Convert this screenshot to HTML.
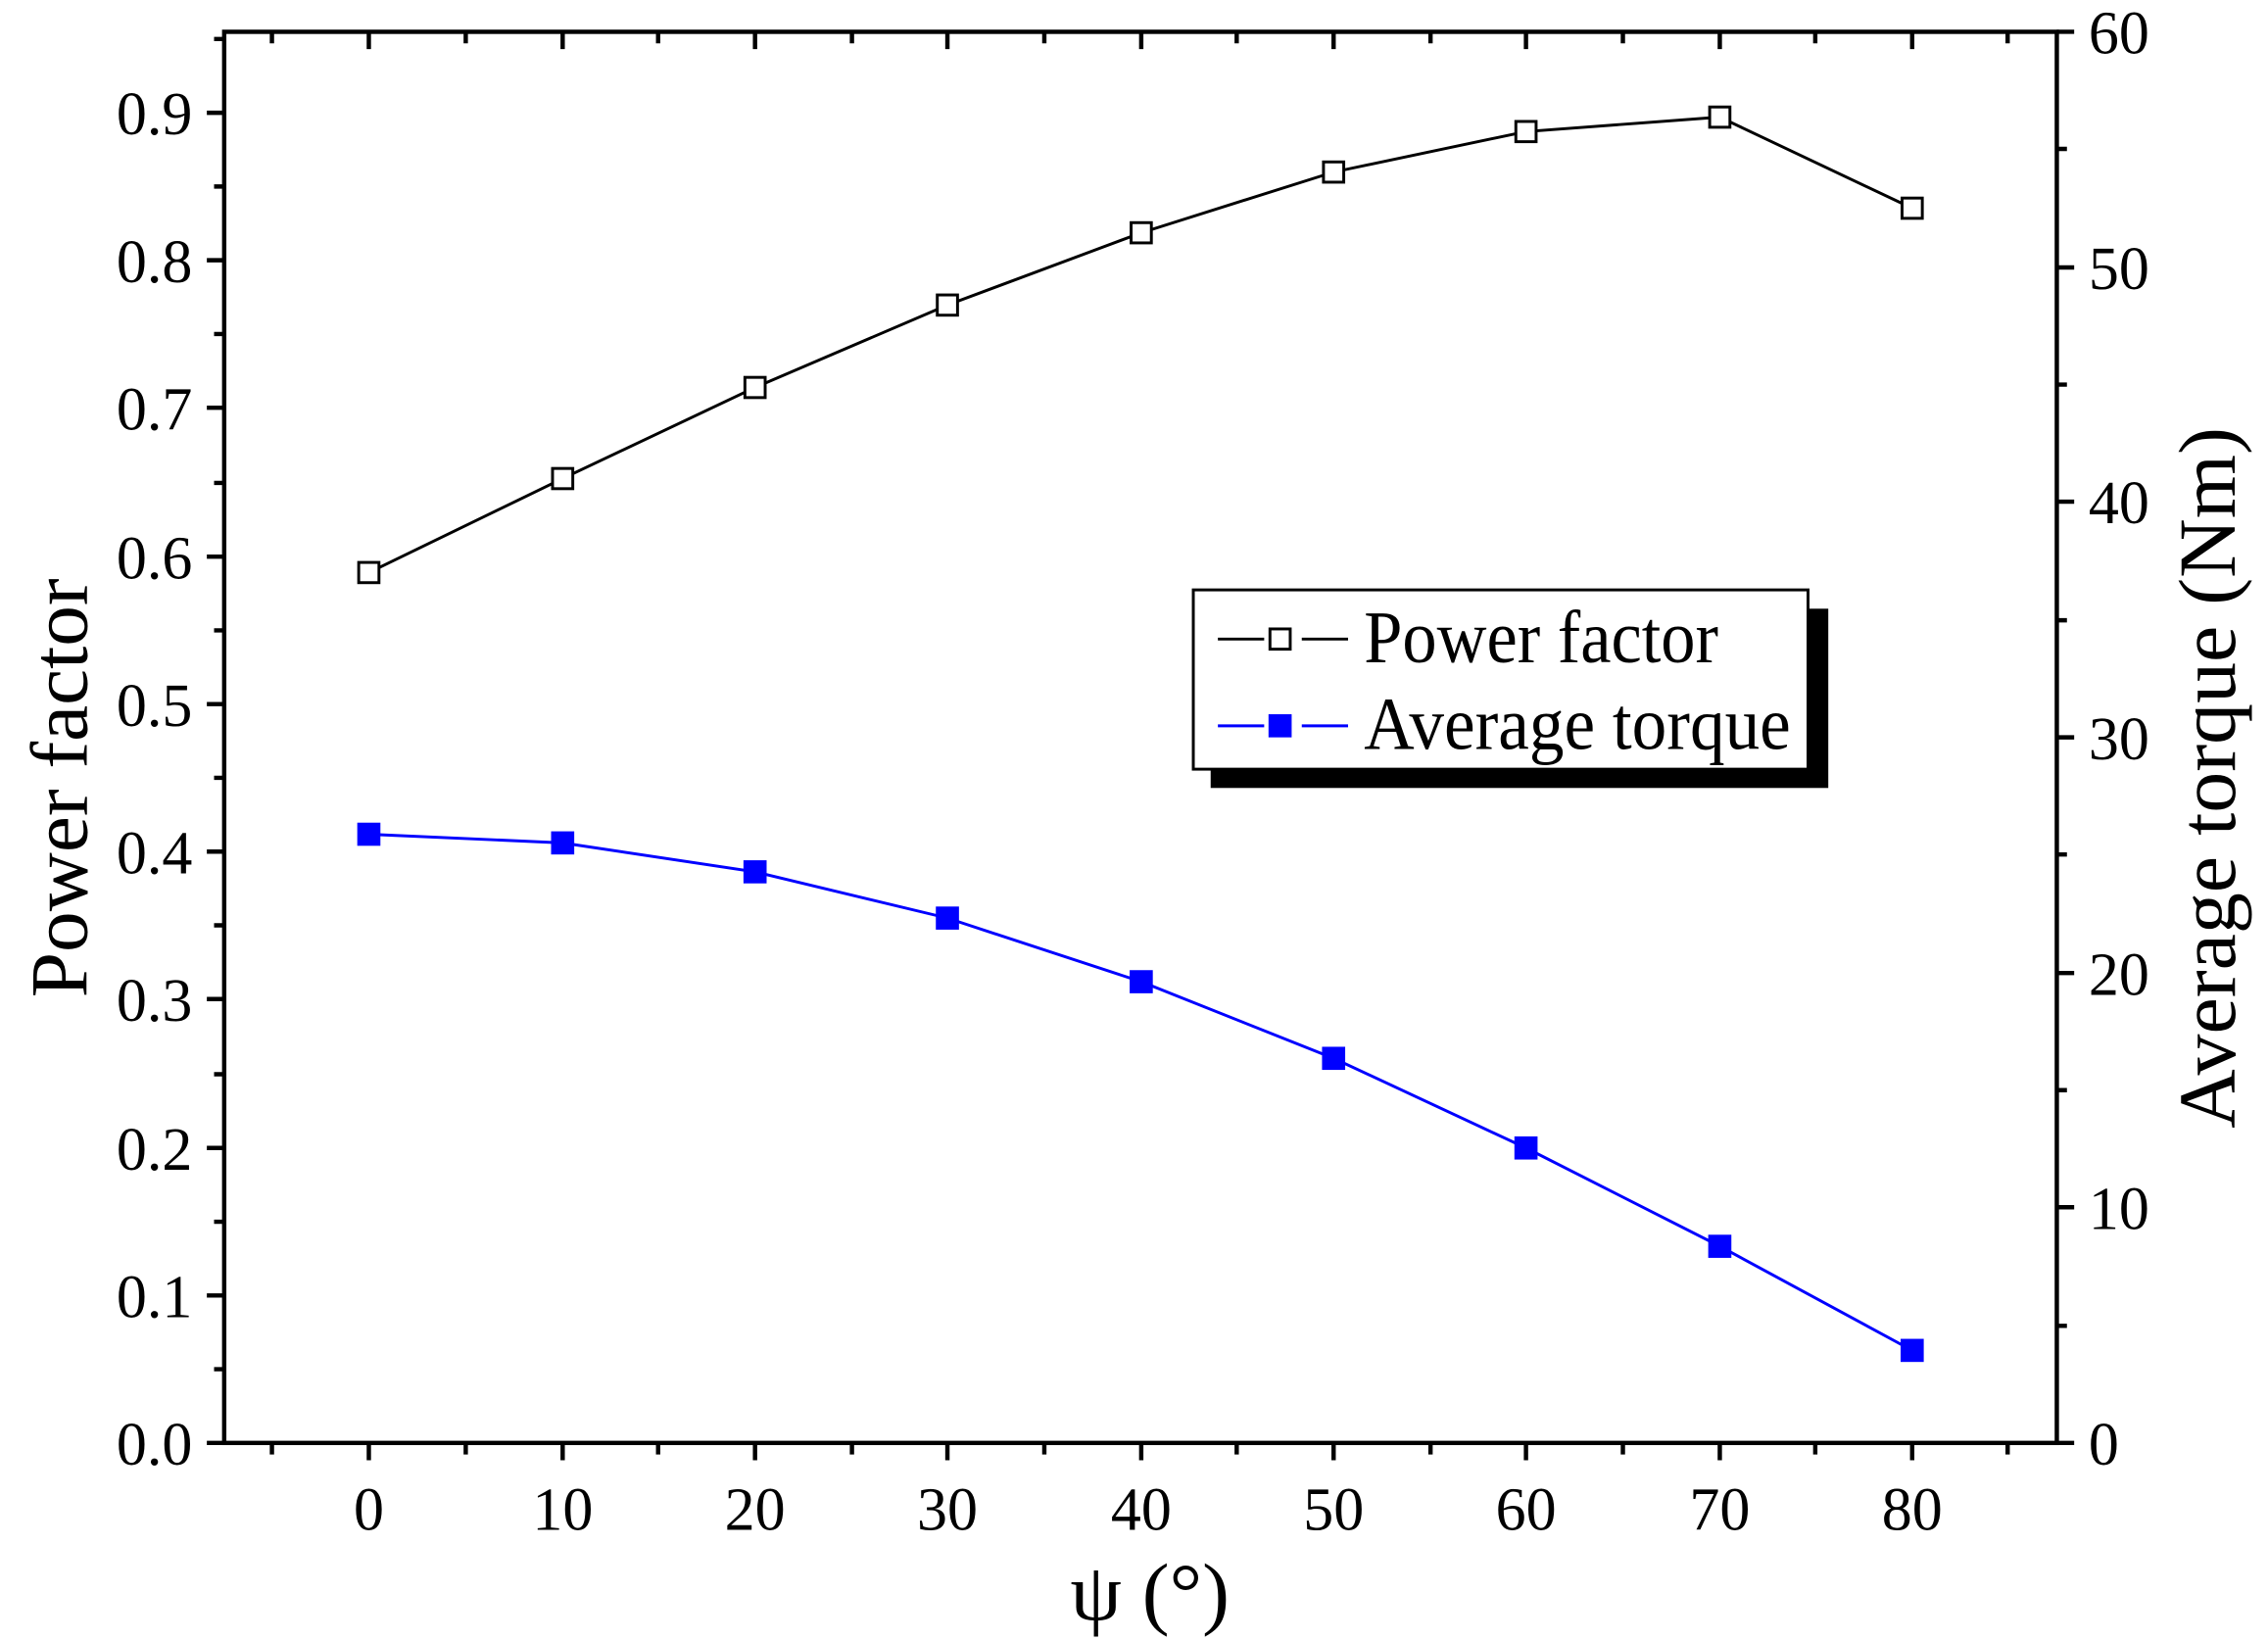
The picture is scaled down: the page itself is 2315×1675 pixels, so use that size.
<!DOCTYPE html>
<html><head><style>html,body{margin:0;padding:0;background:#fff}svg{display:block}</style></head>
<body>
<svg width="2315" height="1675" viewBox="0 0 1568 1135" preserveAspectRatio="none" xmlns="http://www.w3.org/2000/svg" font-family="'Liberation Serif', serif">
<rect width="1568" height="1135" fill="#fff"/>
<g stroke="#000" stroke-width="3" fill="none">
<rect x="155" y="22" width="1267" height="976"/>
<path d="M188 998v8M255 998v12M322 998v8M389 998v12M455 998v8M522 998v12M589 998v8M655 998v12M722 998v8M789 998v12M855 998v8M922 998v12M989 998v8M1055 998v12M1122 998v8M1189 998v12M1255 998v8M1322 998v12M1388 998v8"/>
<path d="M188 22v8M255 22v12M322 22v8M389 22v12M455 22v8M522 22v12M589 22v8M655 22v12M722 22v8M789 22v12M855 22v8M922 22v12M989 22v8M1055 22v12M1122 22v8M1189 22v12M1255 22v8M1322 22v12M1388 22v8"/>
<path d="M143 998h12M148 947h7M143 896h12M148 845h7M143 794h12M148 743h7M143 691h12M148 640h7M143 589h12M148 538h7M143 487h12M148 436h7M143 385h12M148 334h7M143 282h12M148 231h7M143 180h12M148 129h7M143 78h12M148 27h7"/>
<path d="M1422 998h12M1422 917h7M1422 835h12M1422 754h7M1422 673h12M1422 591h7M1422 510h12M1422 429h7M1422 347h12M1422 266h7M1422 185h12M1422 103h7M1422 22h12"/>
</g>
<g font-size="42" fill="#000" text-anchor="end">
<text x="133" y="1013">0.0</text><text x="133" y="911">0.1</text><text x="133" y="809">0.2</text><text x="133" y="706">0.3</text><text x="133" y="604">0.4</text><text x="133" y="502">0.5</text><text x="133" y="400">0.6</text><text x="133" y="297">0.7</text><text x="133" y="195">0.8</text><text x="133" y="93">0.9</text>
</g>
<g font-size="42" fill="#000" text-anchor="start">
<text x="1444" y="1013">0</text><text x="1444" y="850">10</text><text x="1444" y="688">20</text><text x="1444" y="525">30</text><text x="1444" y="362">40</text><text x="1444" y="200">50</text><text x="1444" y="37">60</text>
</g>
<g font-size="42" fill="#000" text-anchor="middle">
<text x="255" y="1058">0</text><text x="389" y="1058">10</text><text x="522" y="1058">20</text><text x="655" y="1058">30</text><text x="789" y="1058">40</text><text x="922" y="1058">50</text><text x="1055" y="1058">60</text><text x="1189" y="1058">70</text><text x="1322" y="1058">80</text>
</g>
<text x="740" y="1120" font-size="56" textLength="110" lengthAdjust="spacingAndGlyphs">ψ (°)</text>
<text transform="translate(60,545) rotate(-90)" font-size="56" text-anchor="middle" textLength="290" lengthAdjust="spacingAndGlyphs">Power factor</text>
<text transform="translate(1545,538) rotate(-90)" font-size="56" text-anchor="middle" textLength="485" lengthAdjust="spacingAndGlyphs">Average torque (Nm)</text>
<polyline fill="none" stroke="#000" stroke-width="2" points="255,396 389,331 522,268 655,211 789,161 922,119 1055,91 1189,81 1322,144"/>
<g fill="#fff" stroke="#000" stroke-width="2">
<rect x="248" y="389" width="14" height="14"/><rect x="382" y="324" width="14" height="14"/><rect x="515" y="261" width="14" height="14"/><rect x="648" y="204" width="14" height="14"/><rect x="782" y="154" width="14" height="14"/><rect x="915" y="112" width="14" height="14"/><rect x="1048" y="84" width="14" height="14"/><rect x="1182" y="74" width="14" height="14"/><rect x="1315" y="137" width="14" height="14"/>
</g>
<polyline fill="none" stroke="#0000ff" stroke-width="2" points="255,577 389,583 522,603 655,635 789,679 922,732 1055,794 1189,862 1322,934"/>
<g fill="#0000ff">
<rect x="247" y="569" width="16" height="16"/><rect x="381" y="575" width="16" height="16"/><rect x="514" y="595" width="16" height="16"/><rect x="647" y="627" width="16" height="16"/><rect x="781" y="671" width="16" height="16"/><rect x="914" y="724" width="16" height="16"/><rect x="1047" y="786" width="16" height="16"/><rect x="1181" y="854" width="16" height="16"/><rect x="1314" y="926" width="16" height="16"/>
</g>
<rect x="837" y="421" width="427" height="124" fill="#000"/>
<rect x="825" y="408" width="425" height="124" fill="#fff" stroke="#000" stroke-width="2"/>
<path d="M842 442h32M900 442h32" stroke="#000" stroke-width="2"/>
<rect x="878" y="435" width="14" height="14" fill="#fff" stroke="#000" stroke-width="2"/>
<path d="M842 502h32M900 502h32" stroke="#0000ff" stroke-width="2"/>
<rect x="877" y="494" width="16" height="16" fill="#0000ff"/>
<text x="943" y="458" font-size="52" textLength="245" lengthAdjust="spacingAndGlyphs">Power factor</text>
<text x="943" y="518" font-size="52" textLength="295" lengthAdjust="spacingAndGlyphs">Average torque</text>
</svg>
</body></html>
